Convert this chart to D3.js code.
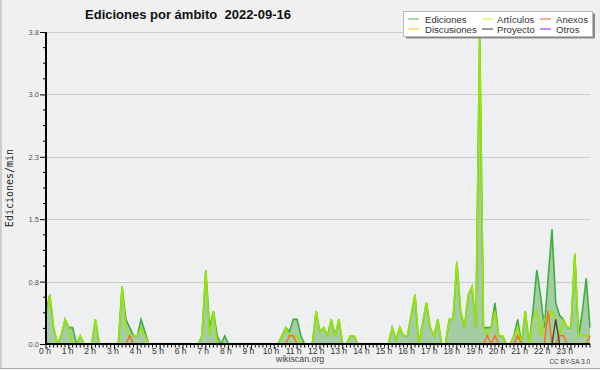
<!DOCTYPE html>
<html><head><meta charset="utf-8">
<script src="https://cdn.jsdelivr.net/npm/d3@7/dist/d3.min.js"></script>
<style>body{margin:0;background:#f0f0f0} svg{display:block}</style>
</head><body><svg id="c" width="600" height="370"></svg>
<script>
const title = "Ediciones por ámbito  2022-09-16";
const yLabel = "Ediciones/min";
const hourLabels = d3.range(0, 24).map(h => h + " h");
const yTickValues = [0, 0.76, 1.52, 2.28, 3.04, 3.8];
const yTickLabels = ["0.0", "0.8", "1.5", "2.3", "3.0", "3.8"];
const legendNames = ["Ediciones", "Artículos", "Anexos", "Discusiones", "Proyecto", "Otros"];
const legendColors = ["#66cc66", "#ccff33", "#ff7744", "#ffcc33", "#555555", "#9944ff"];

// 10-minute bins, 144 per day
const ediciones = [
  0.4,0.6,0.2,0,0.1,0.3,  0.2,0.2,0,0.1,0,0,  0,0.3,0,0,0,0,  0,0,0.7,0.3,0.2,0.1,
  0.1,0.3,0.15,0,0,0,  0,0,0,0,0,0,  0,0,0,0,0,0.1,  0.9,0.2,0.4,0.1,0,0.1,
  0,0,0,0,0,0,  0,0,0,0,0,0,  0,0,0.1,0.2,0.15,0.3,  0.3,0.1,0,0,0,0.4,
  0.15,0.2,0.1,0.3,0.1,0.3,  0,0,0.1,0.1,0,0,  0,0,0,0,0,0,  0,0.2,0.05,0.2,0.1,0.1,
  0.35,0.6,0,0.25,0.5,0.2,  0.1,0.3,0,0,0.3,0.3,  1.0,0.4,0.2,0.6,0.7,0.2,  3.8,0.2,0.2,0.2,0.5,0.1,
  0.1,0,0,0.1,0.3,0,  0.4,0,0.4,0.9,0.6,0.2,  0.8,1.4,0.5,0.35,0.3,0.2,  0.2,1.1,0.1,0.4,0.8,0.2
];
const articulos = [
  0.3,0.6,0.2,0,0.1,0.3,  0.2,0,0,0.1,0,0,  0,0.3,0,0,0,0,  0,0,0.7,0.2,0.1,0.1,
  0.1,0.2,0.1,0,0,0,  0,0,0,0,0,0,  0,0,0,0,0,0.1,  0.9,0.1,0.4,0,0,0,
  0,0,0,0,0,0,  0,0,0,0,0,0,  0,0,0.1,0.2,0.1,0.1,  0.1,0,0,0,0,0.4,
  0.15,0.2,0.1,0.3,0.1,0.3,  0,0,0.1,0.1,0,0,  0,0,0,0,0,0,  0,0.2,0.05,0.2,0.1,0.1,
  0.35,0.6,0,0.25,0.5,0.2,  0.1,0.3,0,0,0.3,0.3,  1.0,0.4,0.2,0.6,0.7,0.2,  3.8,0.2,0.1,0.2,0.4,0.1,
  0.1,0,0,0.1,0.2,0,  0.4,0,0.3,0.4,0.1,0.3,  0.3,0.4,0.3,0.1,0.3,0.2,  0.2,1.1,0.1,0.1,0.1,0.1
];
const anexos = [
  0,0,0,0,0,0,  0,0,0,0,0,0,  0,0,0,0,0,0,  0,0,0,0,0.1,0,
  0,0,0,0,0,0,  0,0,0,0,0,0,  0,0,0,0,0,0,  0,0,0,0,0,0,
  0,0,0,0,0,0,  0,0,0,0,0,0,  0,0,0,0,0.1,0.1,  0,0,0,0,0,0,
  0,0,0,0,0,0,  0,0,0,0,0,0,  0,0,0,0,0,0,  0,0,0,0,0,0,
  0,0,0,0,0,0,  0,0,0,0,0,0,  0,0,0,0,0,0,  0,0,0.1,0,0.1,0,
  0,0,0,0,0.1,0,  0,0,0,0,0,0,  0.4,0,0,0.1,0.1,0,  0,0,0,0,0,0.1
];
const proyecto = [
  0,0,0,0,0,0,  0,0,0,0,0,0,  0,0,0,0,0,0,  0,0,0,0,0,0,
  0,0,0,0,0,0,  0,0,0,0,0,0,  0,0,0,0,0,0,  0,0,0,0,0,0,
  0,0,0,0,0,0,  0,0,0,0,0,0,  0,0,0,0,0,0,  0,0,0,0,0,0,
  0,0,0,0,0,0,  0,0,0,0,0,0,  0,0,0,0,0,0,  0,0,0,0,0,0,
  0,0,0,0,0,0,  0,0,0,0,0,0,  0,0,0,0,0,0,  0,0,0,0,0,0,
  0,0,0,0,0,0,  0,0,0,0,0,0,  0,0,0.3,0,0,0,  0,0,0,0,0,0
];

const svg = d3.select("#c");
const L = 46, R = 590, T = 32, B = 344;
const x = d3.scaleLinear().domain([0, ediciones.length - 1]).range([L, R]);
const xh = d3.scaleLinear().domain([0, 24]).range([45, 45 + 22.6 * 24]);
const y = d3.scaleLinear().domain([0, 3.8]).range([B, T]);

svg.append("rect").attr("x", 0).attr("y", 0).attr("width", 600).attr("height", 370).attr("fill", "#f0f0f0");
svg.append("rect").attr("x", L).attr("y", T).attr("width", R - L).attr("height", B - T).attr("fill", "#eeeff1");

// grid
svg.append("g").selectAll("line").data(yTickValues.slice(1)).join("line")
  .attr("x1", L).attr("x2", R).attr("y1", d => Math.round(y(d)) + 0.5).attr("y2", d => Math.round(y(d)) + 0.5)
  .attr("stroke", "#cccccc").attr("stroke-width", 1);

// area & lines
const area = d3.area().x((d, i) => x(i)).y0(y(0)).y1(d => y(d));
const line = d3.line().x((d, i) => x(i)).y(d => y(d));
svg.append("path").attr("d", area(ediciones)).attr("fill", "#9fca9f").attr("fill-opacity", 0.95);
svg.append("path").attr("d", line(ediciones)).attr("fill", "none").attr("stroke", "#3fae3f").attr("stroke-width", 1.6);
svg.append("path").attr("d", line(articulos)).attr("fill", "none").attr("stroke", "#9ae600").attr("stroke-width", 1.6);
svg.append("path").attr("d", line(anexos)).attr("fill", "none").attr("stroke", "#ff6a1a").attr("stroke-width", 1.4);
svg.append("path").attr("d", line(proyecto)).attr("fill", "none").attr("stroke", "#444444").attr("stroke-width", 1.4);

// y axis
const yAxis = d3.axisLeft(y).tickValues(yTickValues).tickSize(6).tickFormat((d, i) => yTickLabels[i]);
const gy = svg.append("g").attr("transform", `translate(${L},0)`).call(yAxis);
gy.select(".domain").attr("stroke", "#000").attr("stroke-width", 2).attr("d", `M0,${T}V${B}`);
gy.selectAll(".tick line").attr("stroke", "#000");
gy.selectAll(".tick text").attr("font-family", "Liberation Sans").attr("font-size", 7.5).attr("fill", "#555").attr("x", -7);
const yMinor = d3.range(0, 21).map(k => k * 0.19).filter((d, k) => k % 4 !== 0);
svg.append("g").selectAll("line").data(yMinor).join("line")
  .attr("x1", L - 3).attr("x2", L).attr("y1", d => y(d)).attr("y2", d => y(d)).attr("stroke", "#000");

// x axis
const gx = svg.append("g").attr("transform", `translate(0,${B})`);
gx.selectAll("line.minor").data(d3.range(0, 144)).join("line")
  .attr("x1", d => x(d)).attr("x2", d => x(d)).attr("y1", 0).attr("y2", d => d % 6 === 0 ? 5 : 3.5)
  .attr("stroke", "#000");
gx.append("line").attr("x1", L).attr("x2", R).attr("y1", 0).attr("y2", 0).attr("stroke", "#000").attr("stroke-width", 2);
gx.selectAll("text").data(hourLabels).join("text")
  .attr("x", (d, i) => xh(i)).attr("y", 9.5).attr("text-anchor", "middle")
  .attr("font-family", "Liberation Sans").attr("font-size", 8.5).attr("fill", "#333").text(d => d);

// title
svg.append("text").attr("x", 188).attr("y", 18.5).attr("text-anchor", "middle").style("white-space", "pre")
  .attr("font-family", "Liberation Sans").attr("font-weight", "bold").attr("font-size", 13).attr("fill", "#111").text(title);
// y label
svg.append("text").attr("transform", "translate(13,188) rotate(-90)").attr("text-anchor", "middle")
  .attr("font-family", "DejaVu Sans Mono").attr("font-size", 10).attr("fill", "#222").text(yLabel);
// footer
svg.append("text").attr("x", 300).attr("y", 362).attr("text-anchor", "middle")
  .attr("font-family", "Liberation Sans").attr("font-size", 8.8).attr("fill", "#444").text("wikiscan.org");
svg.append("text").attr("x", 590).attr("y", 364).attr("text-anchor", "end")
  .attr("font-family", "Liberation Sans").attr("font-size", 6.5).attr("fill", "#444").text("CC BY-SA 3.0");

// legend
const lg = svg.append("g");
lg.append("rect").attr("x", 406).attr("y", 13.5).attr("width", 189).attr("height", 25).attr("fill", "#888");
lg.append("rect").attr("x", 403.5).attr("y", 11.5).attr("width", 189).attr("height", 25).attr("fill", "#fff").attr("stroke", "#bbb");
const colX = [408, 482, 540], textX = [425, 497, 556], rowY = [19, 29];
legendNames.forEach((n, k) => {
  const c = k % 3, r = Math.floor(k / 3);
  lg.append("line").attr("x1", colX[c]).attr("x2", colX[c] + 11).attr("y1", rowY[r]).attr("y2", rowY[r])
    .attr("stroke", legendColors[k]).attr("stroke-width", 1.2);
  lg.append("text").attr("x", textX[c]).attr("y", rowY[r] + 3.5)
    .attr("font-family", "Liberation Sans").attr("font-size", 9.6).attr("fill", "#333").text(n);
});
// frame (left and bottom edges)
svg.append("line").attr("x1", 1).attr("x2", 1).attr("y1", 0).attr("y2", 368).attr("stroke", "#aaa");
svg.append("line").attr("x1", 0).attr("x2", 600).attr("y1", 368.5).attr("y2", 368.5).attr("stroke", "#aaa");
</script></body></html>
